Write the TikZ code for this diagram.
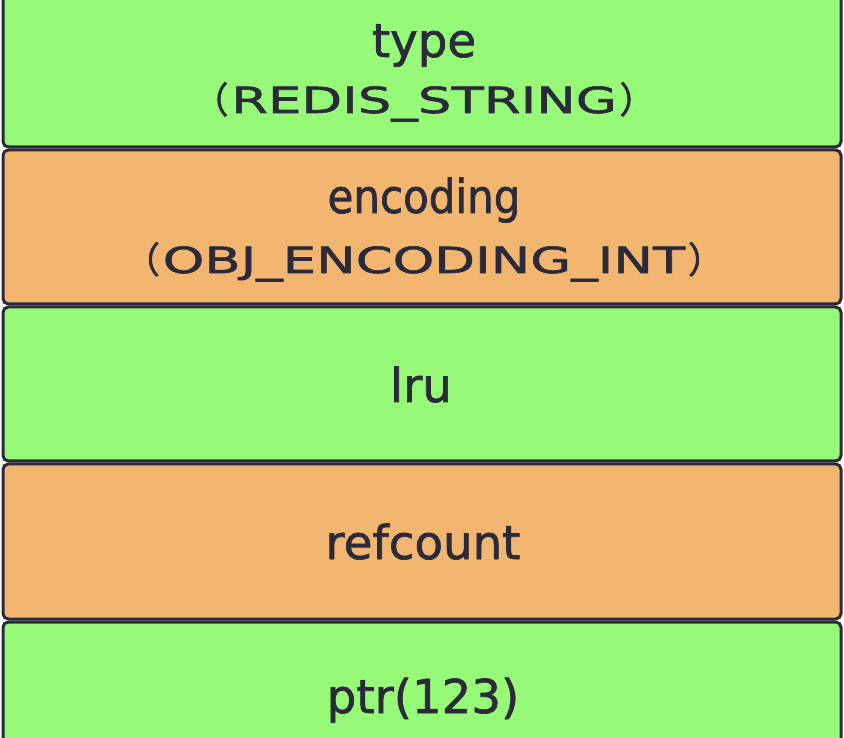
\documentclass[tikz,border=0pt]{standalone}
\usepackage{fontspec}
\setmainfont[FakeBold=1.4]{DejaVu Sans}
\newfontfamily\capsfont[FakeStretch=1.47,FakeBold=1.6]{DejaVu Sans}
\newfontfamily\cjkfont[FakeBold=1.5]{Noto Sans CJK SC}
\definecolor{fieldgreen}{RGB}{150,250,120}
\definecolor{fieldorange}{RGB}{242,182,112}
\definecolor{inkdark}{RGB}{42,42,58}
\newcommand{\lparen}{{\cjkfont （}\kern2pt}
\newcommand{\rparen}{\kern2pt{\cjkfont ）}}
\tikzset{every picture/.style={line width=0.75pt}}

\begin{document}
\begin{tikzpicture}[x=0.75pt,y=0.75pt,yscale=-1,xscale=1]
\tikzset{
  field/.style={draw=inkdark,line width=2.25,rounded corners=4},
  fieldname/.style={anchor=base,text=inkdark,font=\fontsize{35}{42}\selectfont},
  fieldval/.style={anchor=base,text=inkdark,font=\capsfont\fontsize{27}{32}\selectfont}
}
\clip (0,0) rectangle (844,738);

%Shape: Rectangle
\draw [field,fill=fieldgreen] (3,-10) rectangle (841,147);
%Shape: Rectangle
\draw [field,fill=fieldorange] (3,150) rectangle (841,304);
%Shape: Rectangle
\draw [field,fill=fieldgreen] (3,307) rectangle (841,461);
%Shape: Rectangle
\draw [field,fill=fieldorange] (3,464) rectangle (841,619);
%Shape: Rectangle
\draw [field,fill=fieldgreen] (3,622) rectangle (841,778);

% Text Node
\draw (424,57) node [fieldname] (typeTxt) {type};
% Text Node
\draw (424,113) node [fieldval] (typeVal) {\lparen REDIS\_STRING\rparen};
% Text Node
\draw (424,213) node [fieldname,xscale=0.9] (encTxt) {encoding};
% Text Node
\draw (424,273) node [fieldval] (encVal) {\lparen OBJ\_ENCODING\_INT\rparen};
% Text Node
\draw (421,402) node [fieldname] (lruTxt) {lru};
% Text Node
\draw (423,559) node [fieldname] (refTxt) {refcount};
% Text Node
\draw (423,713) node [fieldname] (ptrTxt) {ptr(123)};

\end{tikzpicture}
\end{document}
